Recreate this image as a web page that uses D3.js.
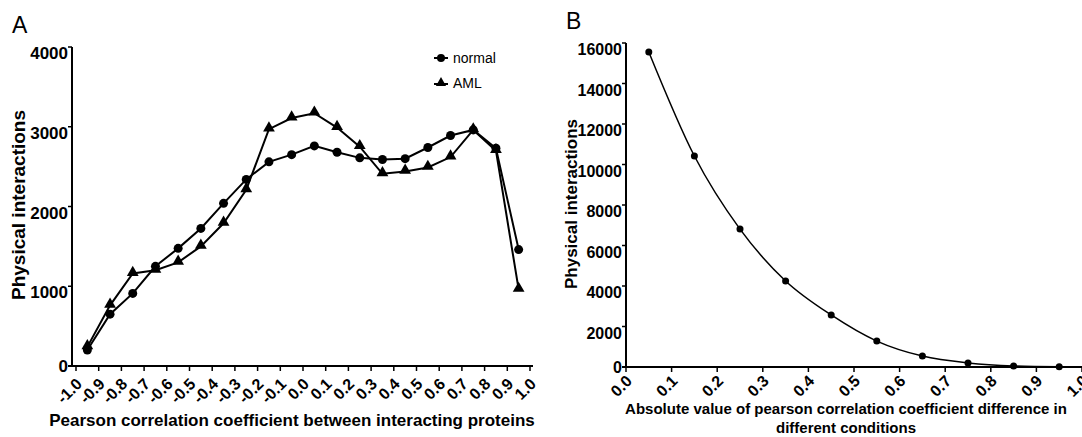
<!DOCTYPE html>
<html>
<head>
<meta charset="utf-8">
<script src="https://cdnjs.cloudflare.com/ajax/libs/d3/7.8.5/d3.min.js"></script>
<style>
body { margin: 0; background: #fff; font-family: "Liberation Sans", Arial, sans-serif; }
</style>
</head>
<body>
<svg id="chart" width="1082" height="437"></svg>
<script>
// panel A data
var binsA = [-0.95, -0.85, -0.75, -0.65, -0.55, -0.45, -0.35, -0.25, -0.15, -0.05,
             0.05, 0.15, 0.25, 0.35, 0.45, 0.55, 0.65, 0.75, 0.85, 0.95];
var normalVals = [200, 650, 910, 1250, 1475, 1725, 2040, 2340, 2560, 2650,
                  2760, 2680, 2610, 2590, 2600, 2740, 2890, 2960, 2730, 1460];
var amlVals = [240, 760, 1160, 1200, 1300, 1500, 1790, 2210, 2970, 3110,
               3170, 2990, 2750, 2410, 2440, 2490, 2620, 2960, 2700, 960];
var ticksA = ["-1.0", "-0.9", "-0.8", "-0.7", "-0.6", "-0.5", "-0.4", "-0.3", "-0.2", "-0.1", "0.0",
              "0.1", "0.2", "0.3", "0.4", "0.5", "0.6", "0.7", "0.8", "0.9", "1.0"];
var yTicksA = [0, 1000, 2000, 3000, 4000];

// panel B data
var binsB = [0.05, 0.15, 0.25, 0.35, 0.45, 0.55, 0.65, 0.75, 0.85, 0.95];
var diffVals = [15560, 10420, 6810, 4250, 2570, 1280, 540, 200, 50, 10];
var ticksB = ["0.0", "0.1", "0.2", "0.3", "0.4", "0.5", "0.6", "0.7", "0.8", "0.9", "1.0"];
var yTicksB = [0, 2000, 4000, 6000, 8000, 10000, 12000, 14000, 16000];

var svg = d3.select("#chart");

function drawAxes(x, y, xt, yt, x0, y0, x1, y1, ySize, xDy) {
  // y axis
  svg.append("line").attr("x1", x0).attr("x2", x0).attr("y1", y1).attr("y2", y0)
    .attr("stroke", "#000").attr("stroke-width", 2);
  // x axis
  svg.append("line").attr("x1", x0 - 4).attr("x2", x1).attr("y1", y0).attr("y2", y0)
    .attr("stroke", "#000").attr("stroke-width", 2);

  yt.forEach(function (v) {
    var yy = y(v);
    svg.append("line").attr("x1", x0 - 4).attr("x2", x0).attr("y1", yy).attr("y2", yy)
      .attr("stroke", "#000").attr("stroke-width", 1.5);
    svg.append("text").attr("x", x0 - 4).attr("y", v === 0 ? yy + 6 : yy + 12)
      .attr("text-anchor", "end").attr("font-weight", "bold").attr("font-size", ySize)
      .text(v);
  });

  xt.forEach(function (s) {
    var xx = x(+s);
    svg.append("line").attr("x1", xx).attr("x2", xx).attr("y1", y0).attr("y2", y0 + 5)
      .attr("stroke", "#000").attr("stroke-width", 1.5);
    svg.append("text")
      .attr("transform", "translate(" + (xx + 7) + "," + (y0 + xDy) + ")rotate(-45)")
      .attr("text-anchor", "end").attr("font-weight", "bold").attr("font-size", 16)
      .text(s);
  });
}

// ---------- panel A ----------
var xA = d3.scaleLinear().domain([-1, 1]).range([76, 530]);
var yA = d3.scaleLinear().domain([0, 4000]).range([366, 47]);
drawAxes(xA, yA, ticksA, yTicksA, 72, 366, 533, 47, 17, 19);

var lineA = d3.line().x(function (d) { return xA(d[0]); }).y(function (d) { return yA(d[1]); });
var normPts = d3.zip(binsA, normalVals);
var amlPts = d3.zip(binsA, amlVals);

svg.append("path").attr("d", lineA(amlPts)).attr("fill", "none")
  .attr("stroke", "#000").attr("stroke-width", 2);
svg.append("path").attr("d", lineA(normPts)).attr("fill", "none")
  .attr("stroke", "#000").attr("stroke-width", 2);

svg.selectAll(".dotA").data(normPts).enter().append("circle")
  .attr("cx", function (d) { return xA(d[0]); })
  .attr("cy", function (d) { return yA(d[1]); })
  .attr("r", 4.5).attr("fill", "#000");

var tri = d3.symbol().type(d3.symbolTriangle).size(60);
svg.selectAll(".triA").data(amlPts).enter().append("path")
  .attr("d", tri)
  .attr("transform", function (d) { return "translate(" + xA(d[0]) + "," + (yA(d[1]) - 1) + ")"; })
  .attr("fill", "#000");

// legend
svg.append("line").attr("x1", 434).attr("x2", 448).attr("y1", 58).attr("y2", 58)
  .attr("stroke", "#000").attr("stroke-width", 2);
svg.append("circle").attr("cx", 441).attr("cy", 58).attr("r", 4).attr("fill", "#000");
svg.append("text").attr("x", 453).attr("y", 63).attr("font-size", 14).text("normal");
svg.append("line").attr("x1", 434).attr("x2", 448).attr("y1", 84).attr("y2", 84)
  .attr("stroke", "#000").attr("stroke-width", 2);
svg.append("path").attr("d", d3.symbol().type(d3.symbolTriangle).size(45))
  .attr("transform", "translate(441,83)").attr("fill", "#000");
svg.append("text").attr("x", 453).attr("y", 88).attr("font-size", 14).text("AML");

svg.append("text").attr("x", 12).attr("y", 33).attr("font-size", 23).text("A");
svg.append("text")
  .attr("transform", "translate(25,205)rotate(-90)")
  .attr("text-anchor", "middle").attr("font-weight", "bold").attr("font-size", 19)
  .text("Physical interactions");
svg.append("text").attr("x", 292).attr("y", 426)
  .attr("text-anchor", "middle").attr("font-weight", "bold").attr("font-size", 17)
  .text("Pearson correlation coefficient between interacting proteins");

// ---------- panel B ----------
var xB = d3.scaleLinear().domain([0, 1]).range([626, 1082]);
var yB = d3.scaleLinear().domain([0, 16000]).range([367, 43]);
drawAxes(xB, yB, ticksB, yTicksB, 626, 367, 1082, 43, 16, 15);

var lineB = d3.line().curve(d3.curveMonotoneX)
  .x(function (d) { return xB(d[0]); }).y(function (d) { return yB(d[1]); });
var diffPts = d3.zip(binsB, diffVals);
svg.append("path").attr("d", lineB(diffPts)).attr("fill", "none")
  .attr("stroke", "#000").attr("stroke-width", 1.5);
svg.selectAll(".dotB").data(diffPts).enter().append("circle")
  .attr("cx", function (d) { return xB(d[0]); })
  .attr("cy", function (d) { return yB(d[1]); })
  .attr("r", 3.5).attr("fill", "#000");

svg.append("text").attr("x", 566).attr("y", 29).attr("font-size", 23).text("B");
svg.append("text")
  .attr("transform", "translate(577,204)rotate(-90)")
  .attr("text-anchor", "middle").attr("font-weight", "bold").attr("font-size", 17)
  .text("Physical interactions");
svg.append("text").attr("x", 846).attr("y", 414)
  .attr("text-anchor", "middle").attr("font-weight", "bold").attr("font-size", 15)
  .text("Absolute value of pearson correlation coefficient difference in");
svg.append("text").attr("x", 846).attr("y", 433)
  .attr("text-anchor", "middle").attr("font-weight", "bold").attr("font-size", 15)
  .text("different conditions");
</script>
</body>
</html>
